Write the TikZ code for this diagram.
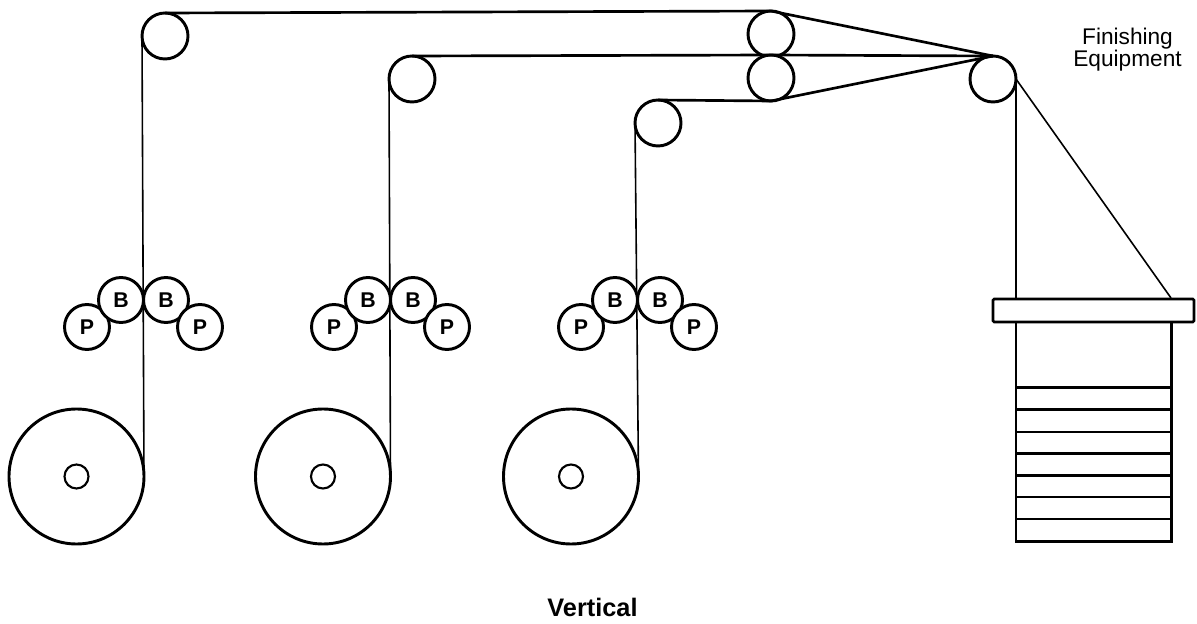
\documentclass[tikz,border=0pt]{standalone}
\usepackage{fontspec}
\setmainfont{Liberation Sans}
\tikzset{
 x=0.75pt,y=-0.75pt,
 roll/.style={circle,draw,line width=2.2pt,inner sep=0pt,outer sep=0pt,minimum size=#1*0.75pt,fill=white},
 hub/.style={circle,draw,line width=1.6pt,inner sep=0pt,minimum size=18pt},
 web/.style={line width=1.2pt},
 thick web/.style={line width=2pt},
 lbl/.style={font=\fontsize{16}{16}\selectfont\bfseries,inner sep=0pt},
 txt/.style={font=\fontsize{17}{16.5}\selectfont,align=center,inner sep=0pt}
}
\begin{document}
\begin{tikzpicture}
\useasboundingbox (0,0) rectangle (1197,624);
% unwind rolls
\node[roll=135] (r1) at (76.5,476.5) {};
\node[roll=135] (r2) at (323,476.5) {};
\node[roll=135] (r3) at (571,476.5) {};
\node[hub] (h1) at (76.5,476.5) {};
\node[hub] (h2) at (323,476.5) {};
\node[hub] (h3) at (571,476.5) {};
% top rollers
\node[roll=46] (u1) at (165,36) {};
\node[roll=46] (u2) at (412,79) {};
\node[roll=46] (u3) at (658,123) {};
\node[roll=46] (n1) at (771,34) {};
\node[roll=46] (n2) at (771,78) {};
\node[roll=46] (f) at (993,79) {};
% webs
\draw[web] (r1.east) -- (u1.west);
\draw[web] (r2.east) -- (u2.west);
\draw[web] (r3.east) -- (u3.west);
\draw[thick web] (u1.north) -- (n1.north) -- (f.north);
\draw[thick web] (u2.north) -- (n2.north) -- (f.north);
\draw[thick web] (u3.north) -- (n2.south) -- (f.north);
\draw[web] (f.east) -- (1016,298);
\draw[web] (f.east) -- (1171,298);
% print units
\foreach \i/\dx in {1/0,2/247,3/494}{
 \node[roll=45,lbl] (pa\i) at (87+\dx,327) {P};
 \node[roll=45,lbl] (ba\i) at (121+\dx,300) {B};
 \node[roll=45,lbl] (bb\i) at (166+\dx,300) {B};
 \node[roll=45,lbl] (pb\i) at (200+\dx,327) {P};
}
% stack
\draw[line width=2pt,fill=white,rounded corners=1pt] (993,299) rectangle (1194,322);
\draw[line width=1.8pt] (1016,322) rectangle (1171.5,541.5);
\foreach \y in {387.3,409.3,431.7,453.3,475.3,496.7,519} \draw[line width=1.8pt] (1016,\y) -- (1171.5,\y);
\node[txt] (fe) at (1127.5,50) {Finishing\\Equipment};
\node[font=\fontsize{19}{20}\selectfont\bfseries,inner sep=0pt] (v) at (592.5,607.5) {Vertical};
\end{tikzpicture}
\end{document}
